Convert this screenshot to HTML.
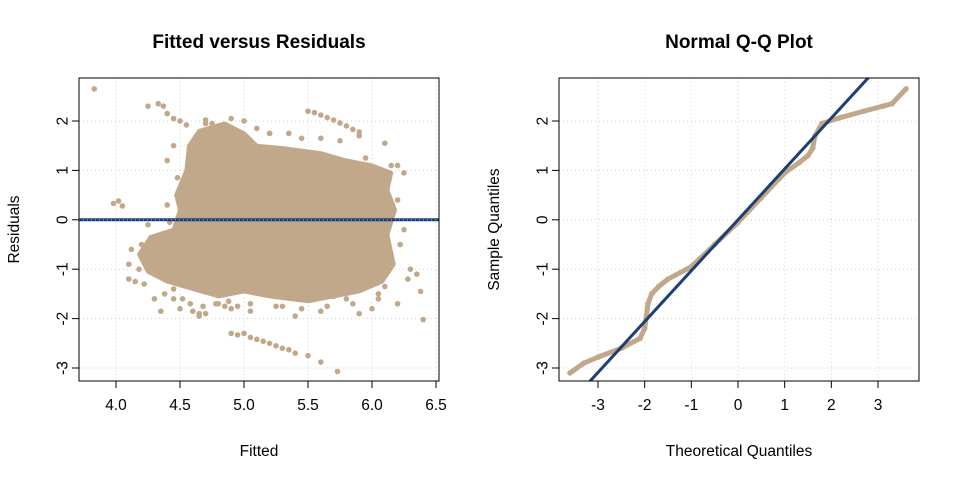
<!DOCTYPE html>
<html><head><meta charset="utf-8"><style>
body{margin:0;background:#fff;}
svg{display:block;font-family:"Liberation Sans",Arial,sans-serif;}
</style></head><body>
<svg id="c" width="960" height="480"></svg>
<script>
// ---- data ----
const fvrXTicks=[4.0,4.5,5.0,5.5,6.0,6.5];
const fvrXTickLabels=["4.0","4.5","5.0","5.5","6.0","6.5"];
const yTicks=[-3,-2,-1,0,1,2];
const yTickLabels=["-3","-2","-1","0","1","2"];
// dense region outline of fitted vs residual cloud (fitted, residual)
const blobFitted=[4.5,4.47,4.55,4.57,4.65,4.85,5.0,5.1,5.3,5.6,5.8,6.0,6.15,6.12,6.18,6.12,6.17,6.08,5.9,5.7,5.5,5.2,5.0,4.8,4.6,4.4,4.25,4.18,4.27,4.45,4.5];
const blobResid=[0.2,0.5,1.0,1.5,1.8,1.95,1.75,1.5,1.45,1.35,1.2,1.1,0.95,0.6,0.2,-0.3,-0.9,-1.25,-1.45,-1.55,-1.65,-1.55,-1.45,-1.55,-1.4,-1.25,-1.05,-0.7,-0.35,-0.2,0.2];
// individual points outside the dense cloud
const ptFitted=[3.83,3.98,4.02,4.05,4.1,4.1,4.15,4.25,4.33,4.37,4.4,4.2,4.3,4.35,4.45,4.5,4.6,4.65,4.8,6.2,6.25,6.3,6.35,6.38,6.4,6.2,5.5,5.55,5.6,5.65,5.7,5.75,5.8,5.85,5.9,4.9,4.95,5.0,5.05,5.1,5.15,5.2,5.25,5.3,5.35,5.4,5.5,5.6,5.73,4.45,4.55,4.7,4.75,4.9,5.0,4.4,4.5,4.6,4.45,5.9,6.0,6.05,5.9,5.6,5.3,5.7,6.1,4.65,4.9,4.35,4.25,5.2,5.6,4.7,4.85,5.4,5.8,4.55,4.48,4.62,5.95,6.15,4.12,4.18,4.22,4.28,4.38,4.42,4.52,4.58,4.68,4.78,4.88,5.05,5.25,5.45,5.65,5.85,6.05,6.22,6.25,6.2,6.28,4.4,4.45,4.6,5.2,5.45,5.75,6.1,4.5,4.7,4.8,5.1,5.35,5.05,4.95,4.75];
const ptResid=[2.65,0.33,0.38,0.28,-0.9,-1.2,-1.25,2.3,2.35,2.3,2.15,-0.5,-1.6,-1.1,-1.4,-1.8,-1.85,-1.9,-1.7,1.1,0.95,-1.0,-1.1,-1.45,-2.02,-1.7,2.2,2.17,2.12,2.07,2.02,1.96,1.9,1.83,1.78,-2.3,-2.33,-2.3,-2.38,-2.42,-2.46,-2.5,-2.55,-2.6,-2.63,-2.7,-2.75,-2.88,-3.07,2.05,1.92,2.02,1.95,2.05,2.0,0.3,0.55,0.8,-1.6,1.7,-1.8,-1.5,-1.9,-1.85,-1.75,-1.55,-1.35,-1.95,-1.8,-1.85,-0.1,1.75,1.65,-1.9,-1.75,-1.95,-1.6,0.0,0.85,1.6,1.25,1.1,-0.6,-1.0,-1.3,-0.45,-1.5,-0.05,-1.6,-1.7,-1.75,-1.7,-1.65,-1.7,-1.75,-1.8,-1.75,-1.7,-1.6,-0.5,-0.2,0.4,-1.2,1.2,1.5,0.7,1.75,1.65,1.6,1.55,2.0,1.95,1.9,1.85,1.75,-1.85,-1.75,0.6];
// QQ plot (theoretical, sample)
const qqTheo=[-3.6,-3.3,-3.0,-2.5,-2.1,-2.0,-1.97,-1.93,-1.85,-1.7,-1.5,-1.0,-0.5,0,0.5,1.0,1.3,1.5,1.6,1.65,1.8,2.2,2.7,3.1,3.3,3.6];
const qqSample=[-3.1,-2.9,-2.78,-2.6,-2.4,-2.2,-2.0,-1.7,-1.5,-1.35,-1.2,-0.95,-0.5,-0.05,0.45,0.95,1.15,1.3,1.45,1.7,1.95,2.07,2.2,2.3,2.35,2.65];
const qqXTicks=[-3,-2,-1,0,1,2,3];
const qqXTickLabels=["-3","-2","-1","0","1","2","3"];
const qqSlope=1.03, qqIntercept=0.0;

const NS="http://www.w3.org/2000/svg";
const svg=document.getElementById('c');
function mk(tag,attrs,parent){const e=document.createElementNS(NS,tag);for(const k in attrs)e.setAttribute(k,attrs[k]);(parent||svg).appendChild(e);return e;}
const PT="#c2a88a", LINE="#1d3f73";
function lin(d0,d1,r0,r1){return v=>r0+(v-d0)*(r1-r0)/(d1-d0);}
const yS=lin(2,-3,121,368);
const box={t:78,b:381};
const FS=15.5;

function frame(x0,x1,xs,xt,xl,title,xlab,ylab,prefix){
  const g=mk('g',{});
  
  
  xt.forEach((v,i)=>{
    const l=mk('line',{x1:xs(v),x2:xs(v),y1:box.t,y2:box.b,stroke:'#d3d3d3','stroke-dasharray':'1,3'},g);
    
    
    mk('line',{x1:xs(v),x2:xs(v),y1:box.b,y2:box.b+7,stroke:'#000'},g);
    const t=mk('text',{x:xs(v),y:box.b+29,'text-anchor':'middle','font-size':FS},g);
    t.textContent=xl[i];
    
    
  });
  mk('line',{x1:xs(xt[0]),x2:xs(xt[xt.length-1]),y1:box.b,y2:box.b,stroke:'#000'},g);
  yTicks.forEach((v,i)=>{
    const l=mk('line',{x1:x0,x2:x1,y1:yS(v),y2:yS(v),stroke:'#d3d3d3','stroke-dasharray':'1,3'},g);
    
    
    mk('line',{x1:x0-7,x2:x0,y1:yS(v),y2:yS(v),stroke:'#000'},g);
    const t=mk('text',{x:x0-16,y:yS(v),'text-anchor':'middle','font-size':FS,transform:`rotate(-90 ${x0-16} ${yS(v)})`,'dominant-baseline':'central'},g);
    t.textContent=yTickLabels[i];
    
    
  });
  mk('line',{x1:x0,x2:x0,y1:yS(-3),y2:yS(2),stroke:'#000'},g);
  const tt=mk('text',{x:(x0+x1)/2,y:48,'text-anchor':'middle','font-size':19,'font-weight':'bold'},g);
  tt.textContent=title;
  
  
  const xa=mk('text',{x:(x0+x1)/2,y:456,'text-anchor':'middle','font-size':FS},g);
  xa.textContent=xlab;
  
  
  const yc=(box.t+box.b)/2, yx=x0-60;
  const ya=mk('text',{x:yx,y:yc,'text-anchor':'middle','font-size':FS,transform:`rotate(-90 ${yx} ${yc})`},g);
  ya.textContent=ylab;
  
  
  return g;
}

// ---- left panel ----
const L0=79,L1=439;
const xF=lin(4.0,6.5,116,436);
frame(L0,L1,xF,fvrXTicks,fvrXTickLabels,"Fitted versus Residuals","Fitted","Residuals","fvr");
const lp=mk('g',{});


const blob=mk('polygon',{points:blobFitted.map((f,i)=>xF(f)+','+yS(blobResid[i])).join(' '),fill:PT,stroke:PT,'stroke-width':4,'stroke-linejoin':'round'},lp);


ptFitted.forEach((f,i)=>{
  const c=mk('circle',{cx:xF(f),cy:yS(ptResid[i]),r:2.8,fill:PT},lp);
  
  
});
const zl=mk('line',{x1:L0,x2:L1,y1:yS(0),y2:yS(0),stroke:LINE,'stroke-width':3});


mk('line',{x1:L0,x2:L1,y1:yS(0),y2:yS(0),stroke:'#fff','stroke-width':1,'stroke-dasharray':'1,3',opacity:0.6});
const b1=mk('rect',{x:L0,y:box.t,width:L1-L0,height:box.b-box.t,fill:'none',stroke:'#000'});



// ---- right panel ----
const R0=559,R1=919;
const xQ=lin(-3,3,598,878);
frame(R0,R1,xQ,qqXTicks,qqXTickLabels,"Normal Q-Q Plot","Theoretical Quantiles","Sample Quantiles","qq");
const qg=mk('g',{});


const qpath=mk('polyline',{points:qqTheo.map((t,i)=>xQ(t)+','+yS(qqSample[i])).join(' '),fill:'none',stroke:PT,'stroke-width':5,'stroke-linecap':'round','stroke-linejoin':'round'},qg);


qqTheo.forEach((t,i)=>{
  const c=mk('circle',{cx:xQ(t),cy:yS(qqSample[i]),r:2.8,fill:PT},qg);
  
  
});
const clip=mk('clipPath',{id:'qc'});
mk('rect',{x:R0,y:box.t,width:R1-R0,height:box.b-box.t},clip);
const tLo=-4,tHi=4;
const ql=mk('line',{x1:xQ(tLo),y1:yS(qqIntercept+qqSlope*tLo),x2:xQ(tHi),y2:yS(qqIntercept+qqSlope*tHi),stroke:LINE,'stroke-width':3,'clip-path':'url(#qc)'});


const b2=mk('rect',{x:R0,y:box.t,width:R1-R0,height:box.b-box.t,fill:'none',stroke:'#000'});


</script>
</body></html>
